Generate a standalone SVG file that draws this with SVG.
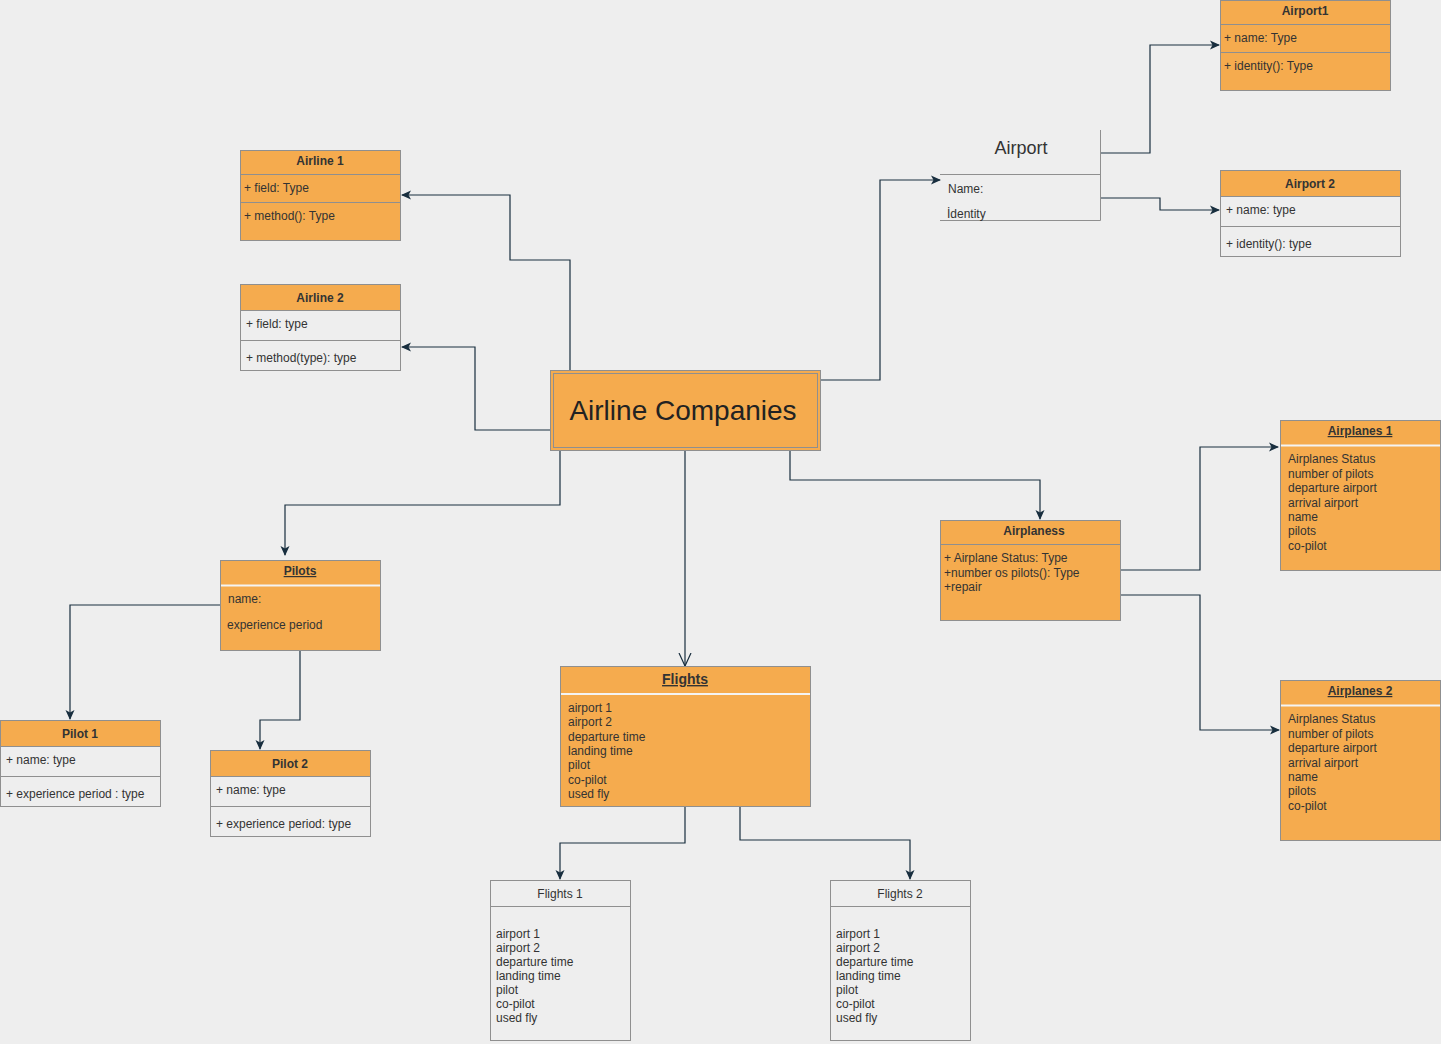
<svg xmlns="http://www.w3.org/2000/svg" width="1441" height="1044" viewBox="0 0 1441 1044">
<defs>
<style>
.bg{fill:#eeeeee}
.or{fill:#f5ab4e;stroke:#8f8f8f;stroke-width:1}
.gr{fill:#eeeeee;stroke:#8f8f8f;stroke-width:1}
.sep{stroke:#8f8f8f;stroke-width:1;fill:none}
.wsep{stroke:#f4f4f4;stroke-width:2;fill:none}
.t{font-family:"Liberation Sans",Arial,sans-serif;font-size:12px;fill:#333333}
.tb{font-family:"Liberation Sans",Arial,sans-serif;font-size:12px;font-weight:bold;fill:#333333;text-anchor:middle}
.u{text-decoration:underline}
.c{fill:none;stroke:#182e3e;stroke-width:1.2}
</style>
<marker id="ar" viewBox="0 0 10 10" refX="9" refY="5" markerWidth="10" markerHeight="10" markerUnits="userSpaceOnUse" orient="auto">
<path d="M0,0.5 L10,5 L0,9.5 L2.5,5 z" fill="#182e3e"/>
</marker>
<marker id="op" viewBox="0 0 14 14" refX="13" refY="7" markerWidth="14" markerHeight="14" markerUnits="userSpaceOnUse" orient="auto">
<path d="M0,1 L13,7 L0,13" fill="none" stroke="#182e3e" stroke-width="1.2"/>
</marker>
</defs>
<rect class="bg" x="0" y="0" width="1441" height="1044"/>

<g id="connectors">
<path class="c" d="M570,370 V260 H510 V195 H402" marker-end="url(#ar)"/>
<path class="c" d="M550,430 H475 V347 H402" marker-end="url(#ar)"/>
<path class="c" d="M560,450 V505 H285 V555" marker-end="url(#ar)"/>
<path class="c" d="M685,450 V666" marker-end="url(#op)"/>
<path class="c" d="M790,450 V480 H1040 V519" marker-end="url(#ar)"/>
<path class="c" d="M820,380 H880 V180 H940" marker-end="url(#ar)"/>
<path class="c" d="M1100,153 H1150 V45 H1219" marker-end="url(#ar)"/>
<path class="c" d="M1100,198 H1160 V210 H1219" marker-end="url(#ar)"/>
<path class="c" d="M220,605 H70 V719" marker-end="url(#ar)"/>
<path class="c" d="M300,650 V720 H260 V749" marker-end="url(#ar)"/>
<path class="c" d="M685,806 V843 H560 V879" marker-end="url(#ar)"/>
<path class="c" d="M740,806 V840 H910 V879" marker-end="url(#ar)"/>
<path class="c" d="M1120,570 H1200 V447 H1278" marker-end="url(#ar)"/>
<path class="c" d="M1120,595 H1200 V730 H1279" marker-end="url(#ar)"/>
</g>

<g id="airline-companies">
<rect x="550.5" y="370.5" width="270" height="80" fill="#f5ab4e" stroke="#8f8f8f"/>
<rect x="553.5" y="373.5" width="264" height="74" fill="none" stroke="#8f8f8f"/>
<text x="683" y="420" font-family="Liberation Sans,Arial,sans-serif" font-size="28" fill="#222222" text-anchor="middle">Airline Companies</text>
</g>

<g id="airport">
<path class="sep" d="M1100.5,130 V220.5 H940 M940,174.5 H1100"/>
<text x="1021" y="154" font-family="Liberation Sans,Arial,sans-serif" font-size="18" fill="#333333" text-anchor="middle">Airport</text>
<text class="t" x="948" y="193">Name:</text>
<text class="t" x="947" y="218">İdentity</text>
</g>

<g id="airport1">
<rect class="or" x="1220.5" y="0.5" width="170" height="90"/>
<path class="sep" d="M1220,24.5 H1390 M1220,52.5 H1390"/>
<text class="tb" x="1305" y="15">Airport1</text>
<text class="t" x="1224" y="42">+ name: Type</text>
<text class="t" x="1224" y="70">+ identity(): Type</text>
</g>

<g id="airport2">
<rect class="gr" x="1220.5" y="170.5" width="180" height="86"/>
<rect class="or" x="1220.5" y="170.5" width="180" height="26"/>
<path class="sep" d="M1220,226.5 H1400"/>
<text class="tb" x="1310" y="188">Airport 2</text>
<text class="t" x="1226" y="214">+ name: type</text>
<text class="t" x="1226" y="248">+ identity(): type</text>
</g>

<g id="airline1">
<rect class="or" x="240.5" y="150.5" width="160" height="90"/>
<path class="sep" d="M240,174.5 H400 M240,202.5 H400"/>
<text class="tb" x="320" y="165">Airline 1</text>
<text class="t" x="244" y="192">+ field: Type</text>
<text class="t" x="244" y="220">+ method(): Type</text>
</g>

<g id="airline2">
<rect class="gr" x="240.5" y="284.5" width="160" height="86"/>
<rect class="or" x="240.5" y="284.5" width="160" height="26"/>
<path class="sep" d="M240,340.5 H400"/>
<text class="tb" x="320" y="302">Airline 2</text>
<text class="t" x="246" y="328">+ field: type</text>
<text class="t" x="246" y="362">+ method(type): type</text>
</g>

<g id="pilots">
<rect class="or" x="220.5" y="560.5" width="160" height="90"/>
<path class="wsep" d="M221,585.5 H380"/>
<text class="tb u" x="300" y="575">Pilots</text>
<text class="t" x="228" y="603">name:</text>
<text class="t" x="227" y="629">experience period</text>
</g>

<g id="pilot1">
<rect class="gr" x="0.5" y="720.5" width="160" height="86"/>
<rect class="or" x="0.5" y="720.5" width="160" height="26"/>
<path class="sep" d="M0,776.5 H160"/>
<text class="tb" x="80" y="738">Pilot 1</text>
<text class="t" x="6" y="764">+ name: type</text>
<text class="t" x="6" y="798">+ experience period : type</text>
</g>

<g id="pilot2">
<rect class="gr" x="210.5" y="750.5" width="160" height="86"/>
<rect class="or" x="210.5" y="750.5" width="160" height="26"/>
<path class="sep" d="M210,806.5 H370"/>
<text class="tb" x="290" y="768">Pilot 2</text>
<text class="t" x="216" y="794">+ name: type</text>
<text class="t" x="216" y="828">+ experience period: type</text>
</g>

<g id="flights">
<rect class="or" x="560.5" y="666.5" width="250" height="140"/>
<path class="wsep" d="M561,694 H810"/>
<text class="tb u" x="685" y="684" style="font-size:14px">Flights</text>
<text class="t" x="568" y="712">airport 1</text>
<text class="t" x="568" y="726">airport 2</text>
<text class="t" x="568" y="741">departure time</text>
<text class="t" x="568" y="755">landing time</text>
<text class="t" x="568" y="769">pilot</text>
<text class="t" x="568" y="784">co-pilot</text>
<text class="t" x="568" y="798">used fly</text>
</g>

<g id="flights1">
<rect class="gr" x="490.5" y="880.5" width="140" height="160"/>
<path class="sep" d="M490,906.5 H630"/>
<text class="t" x="560" y="898" text-anchor="middle">Flights 1</text>
<text class="t" x="496" y="938">airport 1</text>
<text class="t" x="496" y="952">airport 2</text>
<text class="t" x="496" y="966">departure time</text>
<text class="t" x="496" y="980">landing time</text>
<text class="t" x="496" y="994">pilot</text>
<text class="t" x="496" y="1008">co-pilot</text>
<text class="t" x="496" y="1022">used fly</text>
</g>

<g id="flights2">
<rect class="gr" x="830.5" y="880.5" width="140" height="160"/>
<path class="sep" d="M830,906.5 H970"/>
<text class="t" x="900" y="898" text-anchor="middle">Flights 2</text>
<text class="t" x="836" y="938">airport 1</text>
<text class="t" x="836" y="952">airport 2</text>
<text class="t" x="836" y="966">departure time</text>
<text class="t" x="836" y="980">landing time</text>
<text class="t" x="836" y="994">pilot</text>
<text class="t" x="836" y="1008">co-pilot</text>
<text class="t" x="836" y="1022">used fly</text>
</g>

<g id="airplaness">
<rect class="or" x="940.5" y="520.5" width="180" height="100"/>
<path class="sep" d="M940,544.5 H1120"/>
<text class="tb" x="1034" y="535">Airplaness</text>
<text class="t" x="944" y="562">+ Airplane Status: Type</text>
<text class="t" x="944" y="577">+number os pilots(): Type</text>
<text class="t" x="944" y="591">+repair</text>
</g>

<g id="airplanes1">
<rect class="or" x="1280.5" y="420.5" width="160" height="150"/>
<path class="wsep" d="M1281,445.5 H1440"/>
<text class="tb u" x="1360" y="435">Airplanes 1</text>
<text class="t" x="1288" y="463">Airplanes Status</text>
<text class="t" x="1288" y="478">number of pilots</text>
<text class="t" x="1288" y="492">departure airport</text>
<text class="t" x="1288" y="507">arrival airport</text>
<text class="t" x="1288" y="521">name</text>
<text class="t" x="1288" y="535">pilots</text>
<text class="t" x="1288" y="550">co-pilot</text>
</g>

<g id="airplanes2">
<rect class="or" x="1280.5" y="680.5" width="160" height="160"/>
<path class="wsep" d="M1281,705.5 H1440"/>
<text class="tb u" x="1360" y="695">Airplanes 2</text>
<text class="t" x="1288" y="723">Airplanes Status</text>
<text class="t" x="1288" y="738">number of pilots</text>
<text class="t" x="1288" y="752">departure airport</text>
<text class="t" x="1288" y="767">arrival airport</text>
<text class="t" x="1288" y="781">name</text>
<text class="t" x="1288" y="795">pilots</text>
<text class="t" x="1288" y="810">co-pilot</text>
</g>
</svg>
